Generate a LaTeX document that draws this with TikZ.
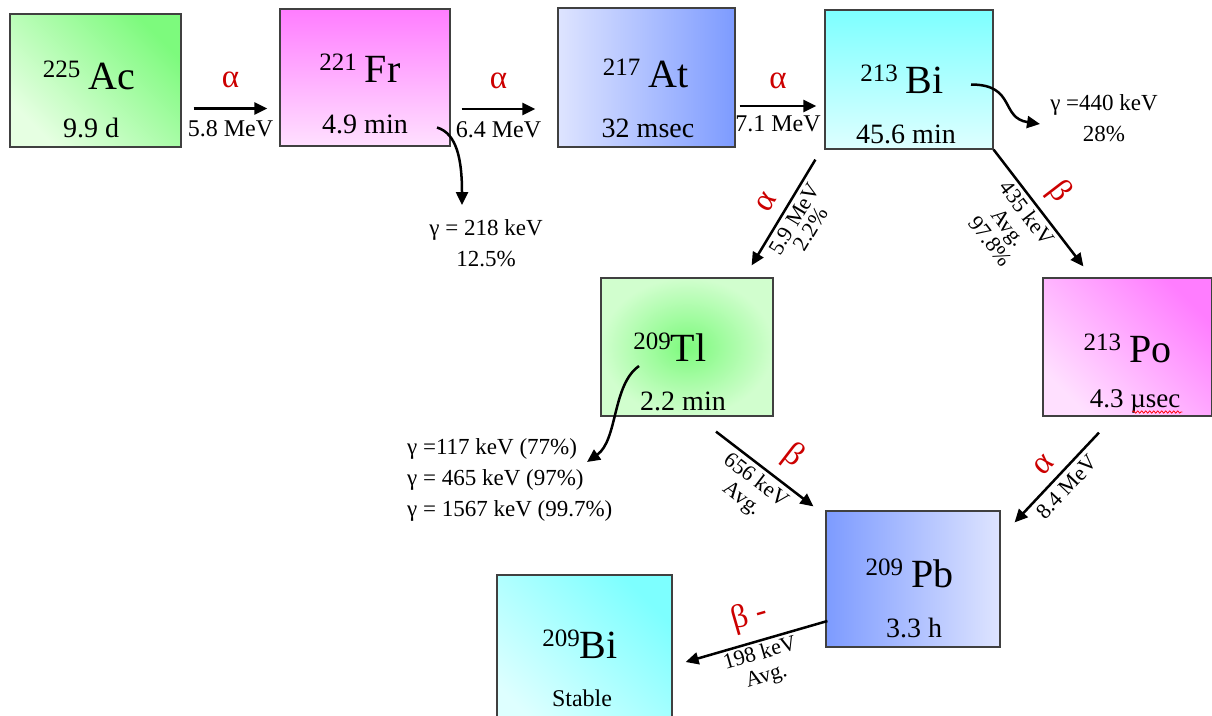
\documentclass[tikz,border=0pt]{standalone}
\usepackage{fontspec}
\setmainfont{Liberation Serif}
\usetikzlibrary{arrows.meta,decorations.pathmorphing}

\definecolor{decayred}{RGB}{204,0,0}
\definecolor{greenhi}{RGB}{125,250,125}
\definecolor{greenlo}{RGB}{230,255,226}
\definecolor{pinkhi}{RGB}{255,125,255}
\definecolor{pinklo}{RGB}{255,224,255}
\definecolor{bluehi}{RGB}{125,155,255}
\definecolor{bluelo}{RGB}{222,228,255}
\definecolor{cyanhi}{RGB}{125,255,255}
\definecolor{cyanlo}{RGB}{222,255,255}

% mass number, gap, element symbol
\newcommand{\nuc}[3][8pt]{\raisebox{12pt}{\fontsize{25}{25}\selectfont #2}\hspace{#1}#3}

\begin{document}
\begin{tikzpicture}[
    x=1pt, y=-1pt,
    box/.style={draw=black!75, line width=1.2pt, inner sep=0pt},
    sym/.style={anchor=base, inner sep=0pt, font=\fontsize{40}{40}\selectfont},
    life/.style={anchor=base, inner sep=0pt, font=\fontsize{28}{28}\selectfont},
    lab/.style={inner sep=0pt, font=\fontsize{24}{24}\selectfont},
    slab/.style={inner sep=0pt, align=center, font=\fontsize{22}{23}\selectfont},
    gam/.style={inner sep=0pt, font=\fontsize{23}{31}\selectfont},
    decay/.style={inner sep=0pt, text=decayred, font=\fontsize{33}{33}\selectfont},
    flow/.style={-{Triangle[length=13pt,width=12pt]}, line width=2.5pt},
    squiggle/.style={draw=red, line width=0.7pt, decorate,
        decoration={snake, amplitude=1.2pt, segment length=4pt}}
]
\useasboundingbox (0,0) rectangle (1212,715);

% boxes of the chain
\node[box, bottom color=greenlo, top color=greenhi, shading angle=-45,
    minimum width=171pt, minimum height=133pt] (ac) at (95.5,80.5) {};
\node[box, bottom color=pinklo, top color=pinkhi,
    minimum width=170pt, minimum height=137pt] (fr) at (365,77.5) {};
\node[box, left color=bluelo, right color=bluehi,
    minimum width=177pt, minimum height=139pt] (at) at (646.5,77.5) {};
\node[box, bottom color=cyanlo, top color=cyanhi,
    minimum width=168pt, minimum height=139pt] (bi) at (909,79.5) {};
\node[box, inner color=greenhi, outer color=greenlo!80!greenhi,
    minimum width=172pt, minimum height=138pt] (tl) at (687,347) {};
\node[box, bottom color=pinklo, top color=pinkhi, shading angle=-45,
    minimum width=169pt, minimum height=138pt] (po) at (1127.5,347) {};
\node[box, left color=bluehi, right color=bluelo,
    minimum width=174pt, minimum height=136pt] (pb) at (913,579) {};
\node[box, bottom color=cyanlo, top color=cyanhi, shading angle=-45,
    minimum width=175pt, minimum height=160pt] (bis) at (584.5,655) {};

% names and half-lives
\node[sym] (acsym) at ([shift={(-6.5,8.5)}]ac.center) {\nuc{225}{Ac}};
\node[life] (aclife) at ([shift={(-4.5,56.5)}]ac.center) {9.9 d};
\node[sym] (frsym) at ([shift={(-5,4.5)}]fr.center) {\nuc{221}{Fr}};
\node[life] (frlife) at ([shift={(0,55.5)}]fr.center) {4.9 min};
\node[sym] (atsym) at ([shift={(-1,9.5)}]at.center) {\nuc{217}{At}};
\node[life] (atlife) at ([shift={(1.5,59.5)}]at.center) {32 msec};
\node[sym] (bisym) at ([shift={(-7,13.5)}]bi.center) {\nuc{213}{Bi}};
\node[life] (bilife) at ([shift={(-3,63.5)}]bi.center) {45.6 min};
\node[sym] (tlsym) at ([shift={(-17,14)}]tl.center) {\nuc[0pt]{209}{Tl}};
\node[life] (tllife) at ([shift={(-4,63)}]tl.center) {2.2 min};
\node[sym] (posym) at ([shift={(0,15)}]po.center) {\nuc{213}{Po}};
\node[life, font=\fontsize{27}{27}\selectfont] (polife) at ([shift={(7.5,60)}]po.center) {4.3 µsec};
\node[sym] (pbsym) at ([shift={(-3.5,8)}]pb.center) {\nuc{209}{Pb}};
\node[life] (pblife) at ([shift={(1,58)}]pb.center) {3.3 h};
\node[sym] (bissym) at ([shift={(-4.5,3)}]bis.center) {\nuc[0pt]{209}{Bi}};
\node[life, font=\fontsize{24}{24}\selectfont] (bislife) at ([shift={(-2.5,51)}]bis.center) {Stable};
\draw[squiggle] ([shift={(-48,5)}]polife.base east) -- ([shift={(2,5)}]polife.base east);

% gamma lines
\node[gam, align=center, anchor=north] (frgam) at (486,219) {γ = 218 keV\\12.5\%};
\node[gam, align=center, anchor=north] (bigam) at (1104,94) {γ =440 keV\\28\%};
\node[gam, align=left, anchor=north west] (tlgam) at (407,438)
    {γ =117 keV (77\%)\\γ = 465 keV (97\%)\\γ = 1567 keV (99.7\%)};

\draw[flow] ([shift={(72,50)}]fr.center) .. controls +(20,6) and +(0,-45) .. ([shift={(-24,-14)}]frgam.north);
\draw[flow] ([shift={(62,5)}]bi.center) .. controls +(45,0) and +(-40,-6) .. ([shift={(-64,30)}]bigam.north);
\draw[flow] ([shift={(-48,19)}]tl.center) .. controls +(-27,19) and +(31,-22) .. ([shift={(180,24)}]tlgam.north west);

% decays
\draw[flow] ([shift={(12,28)}]ac.east) -- node[decay, above=19pt] (acfra) {α}
    node[lab, below=11pt] (acfre) {5.8 MeV} ([shift={(-12,31)}]fr.west);
\draw[flow] ([shift={(11,31.5)}]fr.east) -- node[decay, above=19pt] (frata) {α}
    node[lab, below=11pt] (frate) {6.4 MeV} ([shift={(-22,31.5)}]at.west);
\draw[flow] ([shift={(4,28.5)}]at.east) -- node[decay, above=16pt] (atbia) {α}
    node[lab, below=8pt] (atbie) {7.1 MeV} ([shift={(-8,26.5)}]bi.west);
\draw[flow] ([shift={(-9,10)}]bi.south west) -- node[decay, sloped, above=11pt] (bitla) {α}
    node[slab, sloped, below=4pt, font=\fontsize{22}{19}\selectfont] (bitle) {5.9 MeV\\2.2\%} ([shift={(-22,-12)}]tl.north east);
\draw[flow] (bi.south east) -- node[decay, sloped, above=9pt] (bipob) {β}
    node[slab, sloped, below=3pt, pos=0.48] (bipoe) {435 keV\\Avg.\\97.8\%} ([shift={(41,-11)}]po.north west);
\draw[flow] ([shift={(29,15)}]tl.south) -- node[decay, sloped, above=11pt, pos=0.62] (tlpbb) {β}
    node[slab, sloped, below=4pt] (tlpbe) {656 keV\\Avg.} ([shift={(-12,-4)}]pb.north west);
\draw[flow] ([shift={(-28.5,16)}]po.south) -- node[decay, sloped, above=9pt] (popba) {α}
    node[slab, sloped, below=5pt] (popbe) {8.4 MeV} ([shift={(14,12)}]pb.north east);
\draw[flow] ([shift={(2,42)}]pb.west) -- node[decay, sloped, above=9pt] (pbbib) {β -}
    node[slab, sloped, below=2pt] (pbbie) {198 keV\\Avg.} ([shift={(13,7)}]bis.east);
\end{tikzpicture}
\end{document}
